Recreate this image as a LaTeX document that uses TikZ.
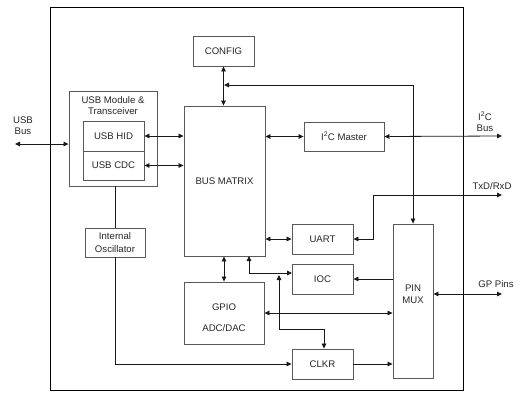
\documentclass[tikz,border=0pt]{standalone}
\usepackage{fontspec}
\setmainfont{Liberation Sans}
\usetikzlibrary{arrows.meta}
\begin{document}
\begin{tikzpicture}[x=1pt,y=-1pt,
  blk/.style={draw=black!65, line width=0.9pt, inner sep=0pt, text=black!85, font=\fontsize{9.6}{11}\selectfont, align=center},
  lbl/.style={inner sep=0pt, text=black!85, font=\fontsize{9.6}{11}\selectfont, align=center},
  wire/.style={draw=black!90, line width=0.8pt},
  tip/.style={-{Triangle[length=5pt,width=4.6pt]}},
  tips/.style={{Triangle[length=5pt,width=4.6pt]}-{Triangle[length=5pt,width=4.6pt]}},
  tipl/.style={{Triangle[length=5pt,width=4.6pt]}-}]
\useasboundingbox (0,0) rectangle (529,405);
\fill[white] (0,0) rectangle (529,405);
% frame
\node[draw=black, line width=0.9pt, inner sep=0pt, minimum width=413pt, minimum height=383pt] (chip) at (256.5,198.5) {};
% blocks
\node[blk, minimum width=61pt, minimum height=30pt] (config) at (223.5,51) {CONFIG};
\node[blk, minimum width=88pt, minimum height=95pt] (usbmod) at (113,138.5) {};
\node[lbl] (usbmodlbl) at (113,105.5) {USB Module \&\\Transceiver};
\node[blk, minimum width=61pt, minimum height=30pt] (hid) at (113.5,136) {USB HID};
\node[blk, minimum width=61pt, minimum height=29pt] (cdc) at (113.5,165.5) {USB CDC};
\node[blk, minimum width=81pt, minimum height=150pt] (bus) at (224.5,181) {BUS MATRIX};
\node[blk, minimum width=80pt, minimum height=29pt] (i2c) at (344,136.5) {I\textsuperscript{2}C Master};
\node[blk, minimum width=61pt, minimum height=30pt] (uart) at (322.5,239) {UART};
\node[blk, minimum width=61pt, minimum height=30pt] (ioc) at (322.5,279) {IOC};
\node[blk, minimum width=80pt, minimum height=62pt] (gpio) at (224,313) {};
\node[lbl] (gpiolbl) at (224,307) {GPIO};
\node[lbl] (adclbl) at (224,328) {ADC/DAC};
\node[blk, minimum width=40pt, minimum height=154pt] (pinmux) at (413,301) {};
\node[lbl, font=\fontsize{9.6}{12}\selectfont] (pinmuxlbl) at (413,294) {PIN\\MUX};
\node[blk, minimum width=61pt, minimum height=30pt] (clkr) at (322.5,364) {CLKR};
\node[blk, minimum width=60pt, minimum height=29pt, font=\fontsize{9.6}{13}\selectfont] (osc) at (115,242.5) {Internal\\Oscillator};
% outside labels
\node[lbl] (usbbus) at (23,126) {USB\\Bus};
\node[lbl] (i2cbus) at (485,122) {I\textsuperscript{2}C\\Bus};
\node[lbl] (txd) at (492,186) {TxD/RxD};
\node[lbl] (gppins) at (496,284) {GP Pins};
% coordinates
\coordinate (usbL) at (15,144);
\coordinate (i2cR) at (502,136);
\coordinate (txdR) at (502,195);
\coordinate (txdK) at (373,195);
\coordinate (gpR) at (502,294);
\coordinate (cfgtap) at (224,85);
\coordinate (busB) at (249,256);
\coordinate (iocIn) at (292,273);
\coordinate (clkTap) at (279,275);
\coordinate (clkK1) at (279,329);
\coordinate (clkK2) at (324,329);
\coordinate (oscK) at (115,364);
% connectors
\draw[wire,tips] (usbL) -- (usbL -| usbmod.west);
\draw[wire,tips] (hid.east) -- (hid.east -| bus.west);
\draw[wire,tips] (cdc.east) -- (cdc.east -| bus.west);
\draw[wire,tips] (config.south) -- (config.south |- bus.north);
\draw[wire,tips] (cfgtap) -| (pinmux.north);
\draw[wire,tips] (bus.east |- i2c) -- (i2c.west);
\draw[wire,tips] (i2c.east) -- (i2cR);
\draw[wire,tips] (uart.east) -| (txdK) -- (txdR);
\draw[wire,tips] (bus.east |- uart) -- (uart.west);
\draw[wire,tip] (pinmux.west |- ioc) -- (ioc.east);
\draw[wire,tips] (busB) |- (iocIn);
\draw[wire,tips] (clkTap) -- (clkK1) -- (clkK2) -- (clkK2 |- clkr.north);
\draw[wire,tips] (bus.south -| gpio) -- (gpio.north);
\draw[wire,tips] (gpio.east) -- (gpio.east -| pinmux.west);
\draw[wire,tips] (pinmux.east |- gpR) -- (gpR);
\draw[wire,tip] (clkr.east) -- (clkr.east -| pinmux.west);
\draw[wire] (usbmod.south -| osc) -- (osc.north);
\draw[wire,tip] (osc.south) -- (oscK) -- (clkr.west);
\end{tikzpicture}
\end{document}
